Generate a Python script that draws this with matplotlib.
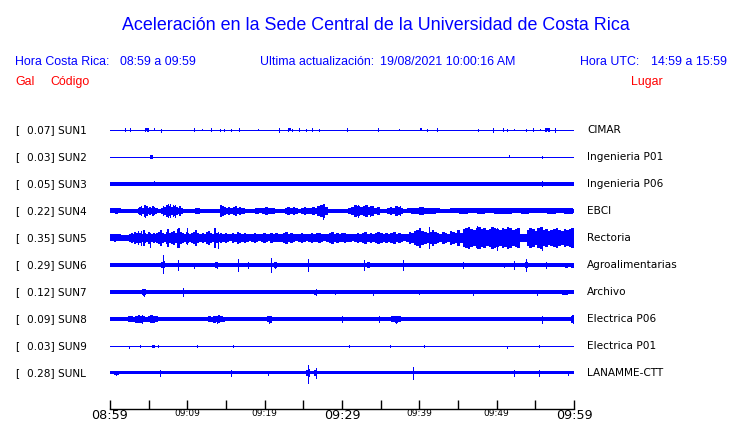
"""
Acceleration traces of the Sede Central network (one hour window).
"""

import matplotlib
matplotlib.use('Agg')
import matplotlib.pyplot as plt

W, H = 740, 423

title = u'Aceleración en la Sede Central de la Universidad de Costa Rica'
updated = '19/08/2021 10:00:16 AM'
local_span = '08:59 a 09:59'
utc_span = '14:59 a 15:59'

codes = ['SUN1', 'SUN2', 'SUN3', 'SUN4', 'SUN5', 'SUN6', 'SUN7', 'SUN8', 'SUN9', 'SUNL']
peaks = [0.07, 0.03, 0.05, 0.22, 0.35, 0.29, 0.12, 0.09, 0.03, 0.28]
places = ['CIMAR', 'Ingenieria P01', 'Ingenieria P06', 'EBCI', 'Rectoria',
          'Agroalimentarias', 'Archivo', 'Electrica P06', 'Electrica P01', 'LANAMME-CTT']

# half width of the quiet band, pixels
base_px = [0.5, 0.5, 1.7, 1.8, 3.2, 1.6, 1.6, 2.0, 0.5, 1.5]

# noisy stretches: (start min, end min, half widths in px read along the stretch)
bursts = {
    'SUN1': [(4.5, 5.0, [2, 1.5, 2]), (23.0, 23.4, [2, 1.5]), (40.1, 40.4, [1.5]),
             (56.3, 56.9, [2, 1.5, 2])],
    'SUN2': [(5.2, 5.5, [2, 2])],
    'SUN3': [(36.0, 37.0, [1.3, 1.2, 1.3])],
    'SUN4': [(0.0, 1.4, [2.5, 2.5, 3, 2.5]),
             (3.6, 6.2, [3, 4, 5, 3, 6, 4, 5, 3, 4, 3, 5, 4, 3, 2.5]),
             (6.6, 9.4, [3, 5, 4, 6, 7, 5, 4, 6, 5, 4, 3, 5, 3]),
             (11.0, 11.6, [3, 3]),
             (14.2, 17.5, [6, 5, 4, 3, 4, 3, 4, 5, 3, 4, 3, 3]),
             (18.8, 21.3, [3, 2.5, 3, 4, 3, 3]),
             (22.6, 24.3, [3, 4, 3, 4, 3]),
             (24.7, 28.2, [3, 4, 3, 3, 4, 3, 5, 6, 7, 4]),
             (30.8, 34.9, [3, 4, 6, 5, 4, 5, 6, 4, 5, 3, 4]),
             (35.8, 37.9, [3, 4, 3, 5, 4, 3]),
             (38.4, 42.7, [2.5, 3, 3, 4, 3, 3, 3, 2.5]),
             (44.0, 59.9, [2.5, 3, 2.5, 3, 2.5, 3, 3, 2.5, 3, 2.5, 2.5, 3, 2.5, 3])],
    'SUN5': [(0.0, 1.4, [3.5, 3.5, 4, 3.5, 3.5]),
             (2.5, 6.0, [4, 5, 4, 6, 5, 7, 5, 4, 8, 5, 4, 6, 5, 4, 5, 4]),
             (6.0, 10.5, [5, 6, 8, 5, 4, 6, 9, 5, 6, 7, 5, 4, 10, 6, 5, 4, 6, 5, 4]),
             (10.5, 14.5, [5, 6, 8, 5, 4, 5, 4, 6, 7, 5, 4, 10, 5, 4, 5]),
             (14.5, 22.0, [4, 5, 4, 3.5, 5, 4, 6, 5, 4, 5, 4, 3.5, 4, 5, 4, 3.5, 4, 5, 4, 3.5, 5, 4, 4.5, 4]),
             (22.0, 30.9, [4, 5, 6, 4, 5, 4, 3.5, 4, 5, 4, 3.5, 4, 5, 4, 4.5, 5, 4, 3.5, 4, 5, 6, 4, 5,
                           4, 4.5, 5, 4]),
             (30.9, 38.6, [4, 3.5, 4, 5, 4, 5, 6, 4, 5, 4, 5, 6, 5, 4, 5, 4, 5, 6, 4, 5, 4, 3.5, 4]),
             (38.6, 45.6, [6, 5, 7, 8, 10, 7, 6, 5, 6, 8, 6, 5, 4, 6, 5, 4, 7, 6, 5, 8, 5]),
             (45.6, 53.0, [9, 10, 11, 9, 8, 10, 11, 9, 10, 8, 9, 11, 10, 9, 8, 10, 9, 11, 10, 8, 9, 10]),
             (53.0, 53.9, [4, 4]),
             (53.9, 60.0, [8, 10, 9, 7, 10, 11, 8, 9, 7, 8, 9, 10, 8, 7, 9, 8, 9, 10])],
    'SUN6': [(6.6, 7.1, [3, 3.5]), (13.6, 14.0, [3, 2.5]), (21.2, 21.6, [3, 3]),
             (33.2, 33.6, [3, 3]), (53.6, 54.0, [3, 3]), (58.5, 60.0, [2.2, 2.5, 2.2, 2.5])],
    'SUN7': [(4.1, 4.7, [3, 3.5, 3]), (26.4, 26.8, [2.5, 3]), (58.5, 59.2, [2.5, 2.5])],
    'SUN8': [(2.3, 6.2, [3, 3, 2.5, 3.5, 4, 3.5, 3, 2.5, 3, 4, 3.5, 3]),
             (12.7, 14.9, [3, 2.5, 3.5, 3, 4, 3, 2.5]),
             (20.3, 20.9, [3, 3.5]),
             (36.4, 37.6, [3, 3.5, 3]),
             (59.6, 60.0, [3.5, 4])],
    'SUN9': [(5.4, 5.8, [1.5, 1.5])],
    'SUNL': [(25.4, 25.8, [3, 4]), (26.4, 26.8, [3, 4]), (0.5, 1.1, [2, 2])],
}

# isolated peaks: (minute, up px, down px)
spikes = {
    'SUN1': [(2.0, 1.5, 1.5), (2.6, 1.5, 1.5), (5.7, 1.5, 0.5), (6.6, 0.5, 2.5), (10.9, 1.5, 1.5),
             (11.9, 1.0, 0.5), (13.1, 1.5, 1.5), (14.2, 1.0, 1.0), (14.8, 0.5, 1.5), (15.6, 0.5, 1.5),
             (16.7, 1.5, 1.5), (19.2, 1.0, 0.5), (21.8, 2.0, 2.0), (23.5, 1.0, 1.0), (24.4, 1.5, 1.5),
             (25.4, 1.0, 1.0), (26.1, 1.5, 1.5), (27.0, 0.5, 1.5), (30.7, 1.5, 1.5), (34.6, 1.5, 1.5),
             (37.4, 1.0, 0.5), (41.0, 0.5, 1.5), (42.3, 1.5, 1.5), (47.6, 0.5, 1.5), (49.5, 2.0, 2.0),
             (50.8, 1.5, 1.5), (51.3, 1.0, 1.0), (52.2, 1.0, 0.5), (53.8, 0.5, 1.5), (54.7, 1.5, 1.5),
             (55.6, 1.0, 0.5), (57.5, 2.0, 2.0)],
    'SUN2': [(51.6, 1.5, 0.5), (55.9, 1.0, 1.5)],
    'SUN3': [(5.7, 2.8, 0.5), (55.9, 2.5, 2.5)],
    'SUN4': [(4.5, 6.0, 6.0), (7.8, 7.0, 6.0), (8.4, 6.0, 6.5), (14.4, 5.0, 4.0),
             (27.6, 3.0, 8.0), (32.1, 6.0, 6.0), (33.6, 5.0, 5.0), (37.5, 5.0, 4.0)],
    'SUN5': [(4.0, 7.0, 7.0), (5.2, 5.0, 9.0), (8.6, 9.0, 9.0), (9.9, 10.0, 6.0),
             (14.0, 6.0, 10.0), (41.3, 11.0, 10.0), (47.4, 12.0, 10.0), (50.0, 10.0, 12.0),
             (55.9, 10.0, 12.0)],
    'SUN6': [(6.8, 10.0, 8.0), (8.8, 5.0, 5.0), (10.8, 2.5, 2.5), (13.8, 3.0, 3.0), (16.5, 6.0, 6.0),
             (17.8, 3.0, 3.0), (20.8, 7.0, 7.0), (21.4, 3.0, 3.0), (25.6, 6.0, 6.0), (32.9, 5.0, 5.0),
             (37.9, 5.0, 5.0), (45.7, 3.0, 3.0), (50.9, 2.0, 2.0), (52.2, 4.0, 4.0), (53.8, 6.0, 6.0),
             (56.4, 3.0, 3.0)],
    'SUN7': [(4.4, 3.5, 3.5), (9.5, 4.0, 4.0), (26.6, 3.0, 3.0), (29.1, 2.0, 2.0), (34.0, 2.5, 2.5),
             (40.0, 2.0, 2.0), (46.9, 2.5, 2.5), (55.2, 2.5, 2.5)],
    'SUN8': [(4.2, 4.0, 4.0), (13.9, 3.5, 3.5), (20.6, 3.5, 3.5), (30.0, 3.0, 3.0), (34.8, 3.0, 3.0),
             (37.0, 3.5, 3.5), (55.8, 3.5, 3.5), (59.9, 4.0, 4.0)],
    'SUN9': [(2.5, 0.5, 1.5), (3.9, 1.5, 0.5), (6.2, 1.0, 1.0), (11.2, 1.5, 0.5), (15.9, 1.5, 0.5),
             (30.9, 1.0, 1.0), (36.2, 1.0, 1.0), (40.6, 1.5, 0.5), (51.3, 0.5, 1.5), (55.5, 1.5, 1.0)],
    'SUNL': [(0.8, 2.0, 2.0), (6.5, 3.0, 3.0), (15.7, 3.0, 3.0), (20.4, 2.0, 2.0), (25.6, 8.0, 10.0),
             (26.6, 5.0, 5.0), (39.2, 6.0, 6.0), (52.2, 3.0, 3.0), (55.5, 3.0, 3.0), (59.2, 2.0, 2.0)],
}

tick_minutes = [0, 5, 10, 15, 20, 25, 30, 35, 40, 45, 50, 55, 60]
tick_labels = ['08:59', '', '09:09', '', '09:19', '', '09:29', '', '09:39', '', '09:49', '', '09:59']
big_labels = ['08:59', '09:29', '09:59']


def fx(px):
    return px / float(W)


def fy(py):
    return 1 - py / float(H)


fig = plt.figure(figsize=(W / 100.0, H / 100.0), dpi=100)
blue = '#0000ff'
red = '#ff0000'
hfont = 'Liberation Sans'
hs = 8.9
px1 = 0.72  # one pixel, in points

fig.text(fx(375.5), fy(29.5), title, family=hfont, fontsize=12.9, color=blue, ha='center', va='baseline')
fig.text(fx(15), fy(65), 'Hora Costa Rica:', family=hfont, fontsize=hs, color=blue, va='baseline')
fig.text(fx(120), fy(65), local_span, family=hfont, fontsize=hs, color=blue, va='baseline')
fig.text(fx(260), fy(65), u'Ultima actualización:', family=hfont, fontsize=hs, color=blue, va='baseline')
fig.text(fx(380.5), fy(65), updated, family=hfont, fontsize=hs, color=blue, va='baseline')
fig.text(fx(580.5), fy(65), 'Hora UTC:', family=hfont, fontsize=hs, color=blue, va='baseline')
fig.text(fx(651), fy(65), utc_span, family=hfont, fontsize=hs, color=blue, va='baseline')
fig.text(fx(15), fy(85), 'Gal', family=hfont, fontsize=hs, color=red, va='baseline')
fig.text(fx(50), fy(85), u'Código', family=hfont, fontsize=hs, color=red, va='baseline')
fig.text(fx(630.5), fy(85), 'Lugar', family=hfont, fontsize=hs, color=red, va='baseline')

# trace area: x 110..574 px, bottom axis at y=409 px, first trace at 130 px, 27 px apart
sp = 27.0
ax = fig.add_axes([fx(110), fy(409), (574 - 110) / float(W), (409 - 115) / float(H)])
ax.set_xlim(0, 60)
ax.set_ylim((409 - 130) / sp, (115 - 130) / sp)

for i, code in enumerate(codes):
    h = base_px[i] / sp
    if base_px[i] <= 0.6:
        ax.plot([0, 60], [i, i], color=blue, lw=px1, solid_capstyle='butt', antialiased=False)
    else:
        ax.fill_between([0, 60], i - h, i + h, color=blue, lw=0, antialiased=False)
    for t0, t1, widths in bursts[code]:
        n = len(widths)
        step = (t1 - t0) / n
        xs = [t0 + (k + 0.5) * step for k in range(n)]
        ax.bar(xs, [2 * w / sp for w in widths], width=step,
               bottom=[i - w / sp for w in widths], color=blue, lw=0, antialiased=False)
    for t, up, dn in spikes[code]:
        ax.vlines(t, i - up / sp, i + dn / sp, color=blue, lw=px1, antialiased=False)

    yt = fy(130 + i * sp)
    fig.text(fx(15), yt, '[', fontsize=7.6, va='center')
    fig.text(fx(27.3), yt, '%.2f] %s' % (peaks[i], code), fontsize=7.6, va='center')
    fig.text(fx(587), yt, places[i], fontsize=7.6, va='center')

for s in ['top', 'left', 'right']:
    ax.spines[s].set_visible(False)
ax.spines['bottom'].set_linewidth(1.0)
ax.set_yticks([])
ax.set_xticks(tick_minutes)
ax.set_xticklabels(tick_labels)
ax.tick_params(axis='x', direction='in', length=6.5, width=1.0, pad=0)
for lab in ax.get_xticklabels():
    if lab.get_text() in big_labels:
        lab.set_fontsize(9.2)
    else:
        lab.set_fontsize(6.5)

fig.savefig('out.png', dpi=100)
